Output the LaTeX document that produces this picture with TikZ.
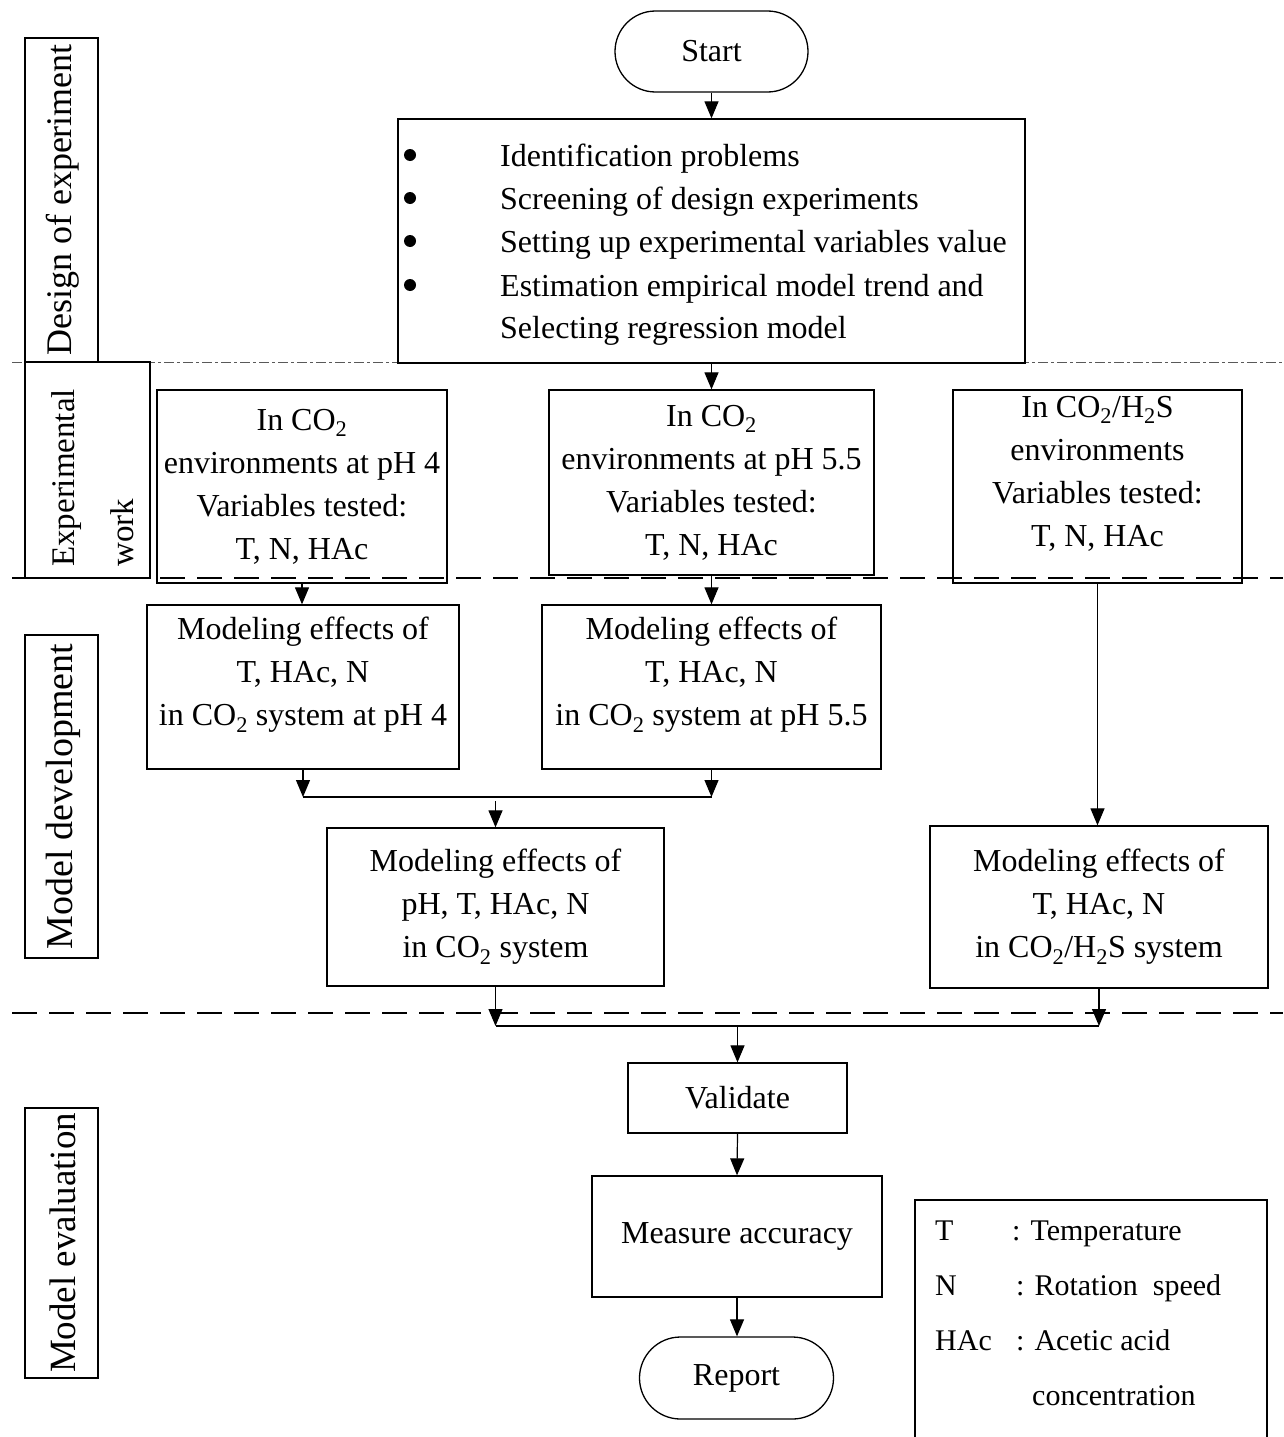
\documentclass[tikz,border=0pt]{standalone}
\usepackage{fontspec}
\setmainfont{Liberation Serif}
\usetikzlibrary{arrows.meta,shapes.misc}
\begin{document}
\begin{tikzpicture}[x=1pt,y=-1pt,
  box/.style={draw, line width=1.3pt, rectangle, inner sep=0pt},
  pill/.style={draw, line width=1.3pt, rounded rectangle, inner sep=0pt, font=\fontsize{32}{43}\selectfont},
  txt/.style={font=\fontsize{32}{43}\selectfont, align=center, inner sep=0pt},
  ltxt/.style={font=\fontsize{32}{43}\selectfont, inner sep=0pt, anchor=base west},
  legtxt/.style={font=\fontsize{30}{40}\selectfont, inner sep=0pt, anchor=base west},
  lab/.style={rotate=90, inner sep=0pt},
  bul/.style={circle, fill, inner sep=0pt, minimum size=12pt},
  arr/.style={line width=1.2pt, -{Triangle[length=17pt,width=14pt]}},
  ln/.style={line width=1.2pt},
  sepline/.style={line width=2.5pt, dash pattern=on 25pt off 12pt},
  ddot/.style={line width=0.9pt, black!65, dash pattern=on 10pt off 3pt on 3pt off 3pt}]
\useasboundingbox (0,0) rectangle (1283,1437);

% separators
\draw[ddot] (12,362.5) -- (1283,362.5);
\draw[sepline] (12,578) -- (1283,578);
\draw[sepline] (12,1013) -- (1283,1013);

% phase labels
\node[box, minimum width=73pt, minimum height=324pt] (ldes) at (61.5,200) {};
\node[lab, font=\fontsize{36}{40}\selectfont] (tdes) at (63,200) {Design of experiment};
\node[box, minimum width=125pt, minimum height=216pt] (lexp) at (87.5,470) {};
\node[lab, anchor=base west, font=\fontsize{33}{40}\selectfont] (texp1) at (74,567) {Experimental};
\node[lab, anchor=base west, font=\fontsize{33}{40}\selectfont] (texp2) at (133,567) {work};
\node[box, minimum width=73pt, minimum height=323pt] (ldev) at (61.5,796.5) {};
\node[lab, font=\fontsize{38}{40}\selectfont] (tdev) at (63,796.5) {Model development};
\node[box, minimum width=73pt, minimum height=270pt] (leval) at (61.5,1243) {};
\node[lab, font=\fontsize{37}{40}\selectfont] (teval) at (63,1243) {Model evaluation};

% start
\node[pill, minimum width=193pt, minimum height=81pt] (start) at (711.5,51.5) {Start};

% design box
\node[box, minimum width=627pt, minimum height=244pt] (b1) at (711.5,241) {};
\foreach \yy/\tt [count=\i] in {166/Identification problems, 209/Screening of design experiments, 252/Setting up experimental variables value, 296/Estimation empirical model trend and, 338/Selecting regression model}{
  \node[ltxt] (bl\i) at (500,\yy) {\tt};
}
\foreach \yy [count=\i] in {155,198,241,285}{
  \node[bul] (bu\i) at (410,\yy) {};
}

% experimental boxes
\node[box, minimum width=290pt, minimum height=193pt] (b2a) at (302,486.5) {};
\node[txt] (t2a) at (302,487) {In CO\textsubscript{2}\\environments at pH 4\\Variables tested:\\T, N, HAc};
\node[box, minimum width=325pt, minimum height=185pt] (b2b) at (711.5,482.5) {};
\node[txt] (t2b) at (711.5,483) {In CO\textsubscript{2}\\environments at pH 5.5\\Variables tested:\\T, N, HAc};
\node[box, minimum width=289pt, minimum height=193pt] (b2c) at (1097.5,486.5) {};
\node[txt] (t2c) at (1097.5,474) {In CO\textsubscript{2}/H\textsubscript{2}S\\environments\\Variables tested:\\T, N, HAc};

% modeling boxes
\node[box, minimum width=312pt, minimum height=164pt] (b3a) at (303,687) {};
\node[txt] (t3a) at (303,675) {Modeling effects of\\T, HAc, N\\in CO\textsubscript{2} system at pH 4};
\node[box, minimum width=339pt, minimum height=164pt] (b3b) at (711.5,687) {};
\node[txt] (t3b) at (711.5,675) {Modeling effects of\\T, HAc, N\\in CO\textsubscript{2} system at pH 5.5};
\node[box, minimum width=337pt, minimum height=158pt] (b4a) at (495.5,907) {};
\node[txt] (t4a) at (495.5,907) {Modeling effects of\\pH, T, HAc, N\\in CO\textsubscript{2} system};
\node[box, minimum width=338pt, minimum height=162pt] (b4b) at (1099,907) {};
\node[txt] (t4b) at (1099,907) {Modeling effects of\\T, HAc, N\\in CO\textsubscript{2}/H\textsubscript{2}S system};

% evaluation
\node[box, minimum width=219pt, minimum height=70pt, font=\fontsize{32}{43}\selectfont] (val) at (737.5,1098) {Validate};
\node[box, minimum width=290pt, minimum height=121pt, font=\fontsize{32}{43}\selectfont] (meas) at (737,1236.5) {Measure accuracy};
\node[pill, minimum width=194pt, minimum height=82pt] (rep) at (736.5,1378) {Report};

% legend
\draw[line width=1.3pt] (915,1440) |- (1267,1200) -- (1267,1440);
\node[legtxt] (lg1) at (935,1240) {T};
\node[legtxt] (lg2) at (1012,1240) {: Temperature};
\node[legtxt] (lg3) at (935,1295) {N};
\node[legtxt] (lg4) at (1016,1295) {: Rotation~~speed};
\node[legtxt] (lg5) at (935,1350) {HAc};
\node[legtxt] (lg6) at (1016,1350) {: Acetic acid};
\node[legtxt] (lg7) at (1032,1405) {concentration};

% connectors
\draw[arr] (start.south) -- (b1.north);
\draw[arr] (b1.south) -- (b2b.north);
\draw[arr] (b2a.south) -- (b2a.south |- b3a.north);
\draw[arr] (b2b.south) -- (b3b.north);
\draw[arr] (b2c.south) -- (b2c.south |- b4b.north);
\coordinate (j1) at (303,797);
\coordinate (j2) at (711.5,797);
\coordinate (m1) at (495.5,801);
\draw[arr] (b3a.south) -- (j1);
\draw[arr] (b3b.south) -- (j2);
\draw[ln] (j1) -- (j2);
\draw[arr] (m1) -- (b4a.north);
\coordinate (k1) at (495.5,1026);
\coordinate (k2) at (1099,1026);
\coordinate (m2) at (737.5,1026);
\draw[arr] (b4a.south) -- (k1);
\draw[arr] (b4b.south) -- (k2);
\draw[ln] (k1) -- (k2);
\draw[arr] (m2) -- (val.north);
\draw[arr] (val.south) -- (meas.north);
\draw[arr] (meas.south) -- (meas.south |- rep.north);
\end{tikzpicture}
\end{document}
